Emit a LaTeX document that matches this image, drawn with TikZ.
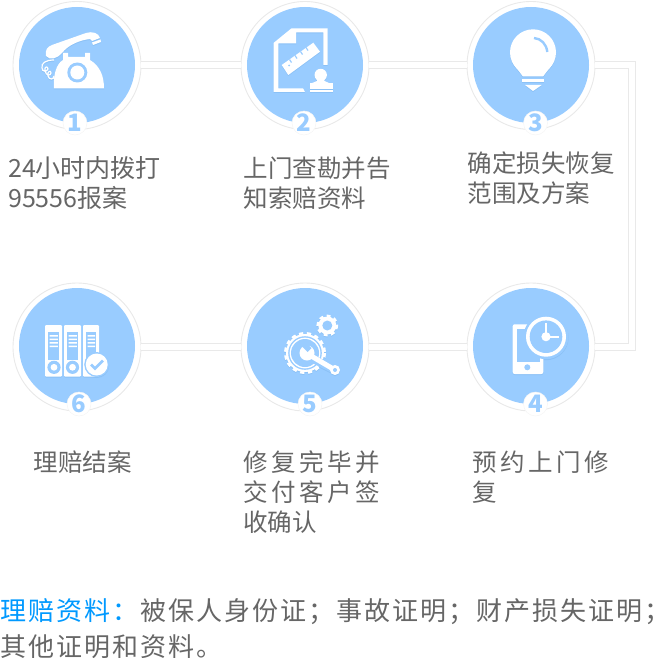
\documentclass[tikz,border=0pt]{standalone}
\usepackage{fontspec}
\setmainfont{Noto Sans CJK SC}
\newfontfamily\steadyfont[LetterSpace=15]{Noto Sans CJK SC}
\newfontfamily\notefont[LetterSpace=7.7]{Noto Sans CJK SC}
\usetikzlibrary{arrows.meta}

\definecolor{discblue}{HTML}{99CCFF}
\definecolor{ringgray}{HTML}{E9E9E9}
\definecolor{textgray}{HTML}{666666}
\definecolor{noteblue}{HTML}{0099FF}
\definecolor{iconshade}{HTML}{8BC1F6}
\colorlet{iconfg}{white}
\colorlet{iconbg}{discblue}

\tikzset{
    ringnode/.style={circle, draw=ringgray, fill=white, line width=0.9pt, minimum size=128pt, inner sep=0pt},
    discnode/.style={circle, fill=discblue, minimum size=116pt, inner sep=0pt},
    badgenode/.style={circle, draw=white!96!black, fill=white, line width=0.5pt, minimum size=24pt, inner sep=0pt, text=discblue, font={\fontsize{24}{24}\selectfont\bfseries}},
    linkline/.style={draw=ringgray, line width=1pt, double=white, double distance=6pt, line join=miter},
    steplabel/.style={anchor=north west, inner sep=0pt, align=left, text=textgray, font={\fontsize{24.5}{30}\selectfont}},
    widelabel/.style={steplabel, font={\fontsize{24.5}{30}\selectfont\steadyfont}},
    notelabel/.style={anchor=north west, inner sep=0pt, align=left, text=textgray, font={\fontsize{26}{36}\selectfont\notefont}}
}

% white shape first in a darker blue, one pixel lower
\newcommand{\shadedicon}[1]{%
    \begin{scope}[shift={(0,1)}]
        \colorlet{iconfg}{iconshade}\colorlet{iconbg}{iconshade}
        #1
    \end{scope}
    #1}

\newcommand{\phoneicon}{%
    \fill[iconfg] (46,56) .. controls (45,50) and (47,47) .. (52,45) -- (86,33) .. controls (92,31) and (99,33) .. (100,38) -- (92,41) -- (90,39) .. controls (80,40) and (68,45) .. (62,53) .. controls (58,58) and (50,61) .. (46,56) -- cycle;
    \fill[iconfg] (92,42.5) -- (100.5,39.5) -- (101,42) -- (93,45) -- cycle;
    \fill[iconfg] (54,88.5) .. controls (53,76) and (56,64) .. (63,60) -- (63,53) -- (68,53) -- (68,57) -- (85,57) -- (85,53) -- (90,53) -- (90,60) .. controls (100,66) and (104,76) .. (104,88.5) -- cycle;
    \fill[iconbg] (77.3,72.5) circle[radius=10];
    \fill[iconfg] (77.3,72.5) circle[radius=7];
    \draw[iconfg, line width=1.2pt] (54,60) .. controls (46,60) and (41,63) .. (42,68) .. controls (42,72) and (47,72) .. (48,69) .. controls (48,66) and (44,66) .. (45,71) .. controls (46,76) and (51,76) .. (51,73) .. controls (51,70) and (47,71) .. (48,76) .. controls (49,80) and (54,80) .. (54,76);
}

\newcommand{\papericon}{%
    \fill[iconfg] (291.5,28.3) -- (327.7,28.3) -- (327.7,65) -- (323.3,65) -- (323.3,32.3) -- (296,32.3) -- (296,43.5) -- (278.3,43.5) -- (278.3,88.3) -- (303,88.3) -- (305,92) -- (273.5,92) -- (273.5,43) -- cycle;
    \fill[iconfg] (281.7,65) -- (313.3,42.7) -- (320,51.7) -- (288.3,75) -- cycle;
    \fill[iconbg] (289,65.5) circle[radius=1];
    \draw[iconbg, line width=1.2pt] (289.5,59.5) -- (291.5,62.5) (295,55.5) -- (297,58.5) (300.5,51.5) -- (302.5,54.5) (306,47.5) -- (308,50.5);
    \fill[iconfg] (320.7,75) circle[radius=6.2];
    \fill[iconfg] (317.7,78) -- (323.7,78) -- (324.5,81) -- (330,83.5) -- (311,83.5) -- (317,81) -- cycle;
    \fill[iconfg] (309.5,83.3) rectangle (333,89);
    \fill[iconfg] (309.5,90) rectangle (333,92.3);
}

\newcommand{\bulbicon}{%
    \fill[iconfg] (533,52.3) circle[radius=23];
    \fill[iconfg] (515,66) -- (523,76.5) -- (543,76.5) -- (551,66) -- cycle;
    \fill[iconfg] (521.7,79) rectangle (544.3,82.3);
    \fill[iconfg] (525,85) -- (541.7,85) -- (533,91) -- cycle;
    \draw[iconbg, line width=2.4pt] (534,38) .. controls (541,38.5) and (546.5,44) .. (547.3,52);
}

\newcommand{\clockicon}{%
    \fill[iconfg, rounded corners=2pt] (512.7,324.3) rectangle (543.3,374);
    \fill[iconbg] (516.8,329) rectangle (539.5,361.7);
    \fill[iconbg] (527.3,367.3) circle[radius=3];
    \fill[iconbg] (546,336.7) circle[radius=22.5];
    \fill[iconfg] (546,336.7) circle[radius=20];
    \fill[iconbg] (546,336.7) circle[radius=16.3];
    \fill[iconfg] (546,336.7) circle[radius=4.6];
    \fill[iconfg] (545,323.3) rectangle (547,336.7);
    \fill[iconfg] (546,335.7) rectangle (559,337.7);
}

\newcommand{\gearicon}{%
    \fill[iconfg] (305,353) circle[radius=19];
    \draw[iconfg, line width=3pt, dash pattern=on 4.2pt off 3.6pt] (305,353) circle[radius=19.5];
    \fill[iconbg] (305,353) circle[radius=16.8];
    \fill[iconfg] (305,353) circle[radius=15.4];
    \fill[iconbg] (305,353) circle[radius=14];
    \fill[iconfg] (327.3,325.5) circle[radius=9];
    \draw[iconfg, line width=2.6pt, dash pattern=on 3.8pt off 3.6pt] (327.3,325.5) circle[radius=9.6];
    \fill[iconbg] (327.3,325.5) circle[radius=5];
    \draw[iconbg, line width=8pt] (313,359) -- (333,369);
    \draw[iconfg, line width=5pt] (307,353.5) -- (335,370);
    \fill[iconfg] (307,353) circle[radius=7.5];
    \fill[iconbg] (301,345.5) -- (307.5,352) -- (311.5,348) -- (305.5,342.5) -- cycle;
    \fill[iconfg] (335,370) circle[radius=5];
    \fill[iconbg] (335,370) circle[radius=2];
}

\newcommand{\bindericon}{%
    \fill[iconfg, rounded corners=1pt] (45,325) rectangle (62,376.5);
    \fill[iconfg, rounded corners=1pt] (64,325) rectangle (81,376.5);
    \fill[iconfg, rounded corners=1pt] (83,325) rectangle (99,376.5);
    \fill[iconbg] (48.3,331.5) rectangle (59,360);
    \fill[iconbg] (67.3,331.5) rectangle (78,360);
    \fill[iconbg] (86.3,331.5) rectangle (96,360);
    \fill[iconfg] (49.5,335) rectangle (57.8,336.5) (49.5,338.5) rectangle (57.8,340) (49.5,342) rectangle (57.8,343.5) (49.5,345.5) rectangle (57.8,347);
    \fill[iconfg] (68.5,335) rectangle (76.8,336.5) (68.5,338.5) rectangle (76.8,340) (68.5,342) rectangle (76.8,343.5) (68.5,345.5) rectangle (76.8,347);
    \fill[iconfg] (87.5,335) rectangle (95,336.5) (87.5,338.5) rectangle (95,340) (87.5,342) rectangle (95,343.5) (87.5,345.5) rectangle (95,347);
    \fill[iconbg] (54,367.3) circle[radius=6.6];
    \fill[iconfg] (54,367.3) circle[radius=3.4];
    \fill[iconbg] (72.5,367.3) circle[radius=6.6];
    \fill[iconfg] (72.5,367.3) circle[radius=3.4];
    \fill[iconbg] (96.7,364.5) circle[radius=12.5];
    \fill[iconfg] (96.7,364.5) circle[radius=11];
    \draw[iconbg, line width=2.6pt] (91,364.5) -- (95,368.5) -- (103,360.5);
}

\begin{document}
\begin{tikzpicture}[x=1pt, y=-1pt]
    \useasboundingbox (0,0) rectangle (654,658);

    \node[ringnode] (ringone) at (77,65.5) {};
    \node[ringnode] (ringtwo) at (305,65.5) {};
    \node[ringnode] (ringthree) at (531,65.5) {};
    \node[ringnode] (ringfour) at (531,347) {};
    \node[ringnode] (ringfive) at (305,347) {};
    \node[ringnode] (ringsix) at (77,347) {};

    \coordinate (turntop) at (631.5,65.5);
    \coordinate (turnbottom) at (631.5,347);
    \draw[linkline] (ringone) -- (ringtwo);
    \draw[linkline] (ringtwo) -- (ringthree);
    \draw[linkline] (ringthree) -- (turntop) -- (turnbottom) -- (ringfour);
    \draw[linkline] (ringfour) -- (ringfive);
    \draw[linkline] (ringfive) -- (ringsix);

    \node[discnode] (discone) at (77,65) {};
    \node[discnode] (disctwo) at (305,65) {};
    \node[discnode] (discthree) at (531,65) {};
    \node[discnode] (discfour) at (531,346) {};
    \node[discnode] (discfive) at (305,346) {};
    \node[discnode] (discsix) at (77,346) {};

    \shadedicon{\phoneicon}
    \shadedicon{\papericon}
    \shadedicon{\bulbicon}
    \shadedicon{\clockicon}
    \shadedicon{\gearicon}
    \shadedicon{\bindericon}

    \node[badgenode] (badgeone) at (75,123) {1};
    \node[badgenode] (badgetwo) at (304,123) {2};
    \node[badgenode] (badgethree) at (535.5,123) {3};
    \node[badgenode] (badgefour) at (535.5,404) {4};
    \node[badgenode] (badgefive) at (310,404) {5};
    \node[badgenode] (badgesix) at (79,404) {6};

    \node[steplabel, font={\fontsize{25}{30}\selectfont}] (labelone) at (8,156.5) {24小时内拨打\\95556报案};
    \node[steplabel] (labeltwo) at (243.5,156.7) {上门查勘并告\\知索赔资料};
    \node[steplabel] (labelthree) at (467.5,151.7) {确定损失恢复\\范围及方案};
    \node[widelabel] (labelfour) at (472,450.7) {预约上门修\\复};
    \node[widelabel] (labelfive) at (243,450.7) {修复完毕并\\交付客户签\\{\normalfont 收确认}};
    \node[steplabel] (labelsix) at (33.5,450.7) {理赔结案};

    \node[notelabel] (notetext) at (0,598) {\textcolor{noteblue}{理赔资料：}\kern2pt 被保人身份证；事故证明；财产损失证明；\kern-18pt\\其他证明和资料。};
\end{tikzpicture}
\end{document}
